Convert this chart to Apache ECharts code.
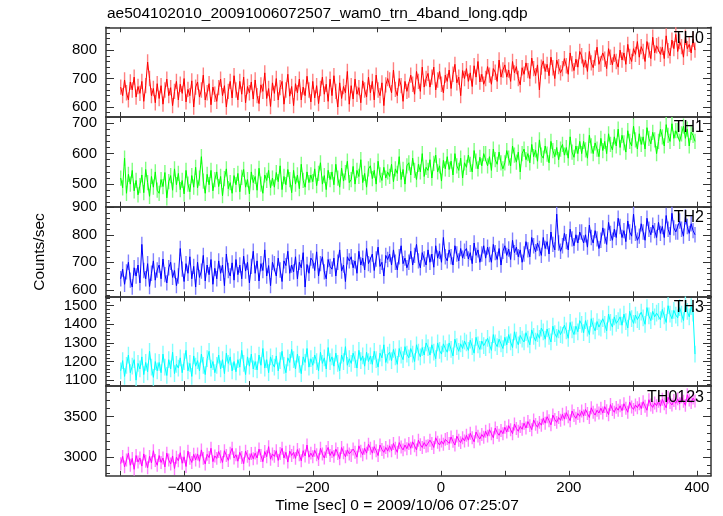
<!DOCTYPE html>
<html>
<head>
<meta charset="utf-8">
<script src="https://cdn.jsdelivr.net/npm/echarts@6/dist/echarts.min.js"></script>
<style>html,body{margin:0;padding:0;background:#fff}#c{width:723px;height:516px}</style>
</head>
<body>
<div id="c"></div>
<script>
// time bins (sec from 2009/10/06 07:25:07)
const binStart = -500, binSize = 3;
const xTicks = [-500,-400,-300,-200,-100,0,100,200,300,400];
const xLabels = [-400,-200,0,200,400];
const bandNames = ['TH0','TH1','TH2','TH3','TH0123'];
const bandColors = ['#ff0000','#00ff00','#0000ff','#00ffff','#ff00ff'];
const errColors = ['#ff8080','#80ff80','#8080ff','#80ffff','#ff80ff'];
// typical 1-sigma error bar of each band (counts/sec)
const bandErrors = [27, 25, 28, 45, 80];
const yRanges = [[565,880],[426,720],[576,902],[1068,1550],[2770,3878]];
const yMajor = [[600,700,800],[500,600,700],[600,700,800,900],[1100,1200,1300,1400,1500],[3000,3500]];
const yMinorStep = [20,20,20,20,100];

const th0 = [
670,640,695,650,625,688,660,705,635,672,
648,690,620,675,758,700,640,665,615,682,
630,675,610,660,698,640,668,605,655,690,
625,680,648,700,618,662,640,692,600,670,
688,635,660,712,625,650,682,608,670,645,
620,668,698,640,675,600,655,690,632,710,
660,625,690,645,705,615,672,650,688,628,
695,640,612,678,655,720,630,665,602,685,
648,700,625,668,690,610,660,715,638,672,
605,682,650,698,625,670,640,708,660,618,
690,632,675,612,665,705,645,680,620,698,
640,710,655,600,685,630,672,650,725,610,
675,628,698,645,668,615,692,660,635,705,
650,690,625,712,660,640,685,605,678,700,
695,650,730,662,640,700,675,620,690,655,
660,712,680,645,725,690,655,740,670,700,
718,670,705,740,660,695,725,680,650,712,
690,730,665,715,750,685,705,640,728,700,
735,690,720,672,745,705,760,688,715,680,
700,742,712,680,735,722,690,765,705,730,
748,705,730,690,760,720,742,700,678,738,
715,755,728,700,772,735,710,748,660,740,
762,725,750,710,775,738,700,765,742,720,
735,770,745,715,790,752,728,768,740,795,
780,740,765,725,795,755,738,772,810,750,
752,790,768,735,805,775,748,785,760,740,
800,765,790,750,820,778,760,805,785,830,
775,812,795,760,830,800,770,845,790,815,
820,785,810,770,850,798,780,835,805,855,
795,830,812,775,845,805,820,790,838,800];
const th1 = [
520,488,585,470,532,500,545,478,512,465,
495,530,472,548,505,460,525,490,540,480,
470,515,492,538,455,508,528,480,550,498,
535,482,512,468,545,500,475,528,490,555,
488,520,590,510,470,532,498,545,478,515,
540,492,525,462,518,550,485,505,470,528,
498,535,475,522,548,490,515,468,540,505,
525,480,552,500,470,530,512,545,488,520,
490,538,508,560,482,525,498,548,515,472,
545,500,530,485,565,512,490,540,505,530,
508,550,495,535,570,500,528,482,545,515,
540,498,565,520,490,552,510,538,575,505,
515,558,500,545,525,580,505,535,490,550,
560,518,545,500,575,530,512,555,520,540,
525,565,508,550,535,590,515,548,500,560,
570,530,585,545,515,565,540,600,525,555,
545,580,520,568,595,540,560,510,578,550,
590,548,575,530,600,560,545,585,520,570,
555,595,565,540,610,575,550,588,560,600,
600,560,590,545,615,580,565,605,570,550,
570,610,585,560,625,595,572,605,540,600,
615,580,600,570,630,590,612,575,645,595,
585,625,598,570,640,610,590,620,580,615,
630,595,620,585,655,605,588,625,600,640,
600,640,612,585,660,625,600,635,615,590,
650,610,640,600,665,630,612,655,625,680,
620,660,635,605,675,640,625,690,645,615,
665,630,655,615,685,650,632,670,645,600,
640,680,655,625,695,660,640,698,650,675,
675,640,665,690,650,680,625,670,660,640];
const th2 = [
640,675,620,665,700,635,610,680,650,690,
625,765,670,640,695,612,660,705,635,672,
690,640,712,655,625,680,700,645,670,615,
650,750,675,630,695,660,720,640,685,610,
700,645,668,725,632,690,655,710,620,678,
640,705,660,690,615,730,670,650,698,635,
710,655,690,640,722,668,700,625,685,740,
660,705,632,695,670,745,650,688,615,700,
695,650,715,672,630,705,688,740,660,690,
665,720,640,700,680,735,610,692,660,715,
705,670,738,650,695,720,665,640,710,685,
675,715,650,700,745,668,690,630,720,705,
720,680,705,660,740,690,715,672,750,695,
690,730,670,712,755,685,700,650,725,710,
730,690,745,700,672,720,760,695,715,680,
700,740,690,725,765,705,680,735,712,690,
745,700,730,682,760,715,740,700,790,720,
705,745,720,690,760,730,705,750,715,740,
750,712,735,695,770,725,745,700,730,760,
715,755,728,700,765,735,710,750,690,740,
760,725,748,710,780,735,755,720,745,700,
730,775,745,720,790,760,738,770,750,725,
790,750,775,730,810,765,745,875,770,740,
760,805,775,745,820,785,760,800,770,810,
810,770,800,755,835,790,770,815,785,750,
780,825,795,765,845,805,780,820,790,860,
830,790,815,775,850,810,795,875,805,780,
795,840,810,780,860,820,800,835,815,790,
845,805,830,790,870,820,800,878,825,810,
810,850,820,795,865,830,805,840,815,800];
const th3 = [
1150,1205,1120,1180,1235,1140,1175,1210,1100,1190,
1160,1225,1130,1195,1145,1255,1170,1115,1200,1150,
1195,1140,1240,1170,1125,1210,1160,1250,1135,1185,
1165,1220,1140,1200,1260,1150,1190,1120,1230,1175,
1205,1150,1240,1180,1130,1215,1255,1165,1200,1140,
1180,1235,1160,1210,1135,1245,1190,1225,1150,1200,
1145,1210,1170,1260,1190,1130,1225,1175,1240,1160,
1200,1155,1235,1180,1270,1165,1210,1140,1225,1190,
1170,1230,1150,1205,1255,1180,1140,1220,1195,1265,
1210,1160,1240,1185,1135,1225,1195,1270,1170,1215,
1180,1235,1200,1150,1250,1190,1220,1160,1275,1200,
1225,1175,1245,1190,1150,1235,1200,1280,1180,1215,
1190,1245,1210,1165,1260,1205,1230,1175,1250,1200,
1230,1185,1255,1210,1170,1245,1220,1290,1195,1235,
1250,1205,1265,1225,1185,1270,1235,1210,1280,1240,
1220,1270,1240,1200,1290,1250,1225,1275,1235,1300,
1275,1235,1290,1250,1215,1300,1260,1240,1295,1270,
1250,1300,1265,1230,1320,1280,1255,1295,1270,1310,
1300,1260,1315,1280,1245,1330,1290,1265,1310,1285,
1275,1325,1290,1260,1345,1300,1280,1320,1295,1270,
1330,1290,1345,1305,1275,1360,1315,1290,1340,1320,
1305,1355,1320,1290,1370,1335,1310,1350,1325,1380,
1360,1320,1375,1335,1305,1390,1350,1330,1370,1345,
1340,1395,1365,1325,1410,1370,1345,1390,1360,1420,
1400,1355,1420,1380,1345,1430,1390,1365,1415,1385,
1380,1430,1400,1365,1455,1410,1385,1440,1405,1420,
1440,1395,1455,1415,1380,1470,1430,1405,1450,1425,
1415,1465,1435,1400,1490,1445,1420,1470,1440,1460,
1470,1425,1480,1445,1410,1500,1455,1430,1475,1450,
1435,1490,1455,1420,1510,1470,1440,1495,1460,1240];
const th0123 = [
2920,3010,2880,2965,3050,2900,2985,2850,3020,2940,
2990,2890,3040,2950,2870,3010,2930,3080,2960,2900,
3020,2935,2990,2880,3050,2965,2915,3015,2860,3000,
2955,3055,2925,3005,2885,3075,2985,2935,3035,2965,
3040,2950,3090,2985,2915,3035,2995,3110,2945,3015,
2985,3070,3005,2935,3080,3020,2960,3050,3110,2990,
3030,2950,3060,2995,2920,3075,3010,2965,3045,2980,
3050,2990,3100,3020,2945,3070,3005,3130,2975,3040,
3010,3080,2960,3045,3110,2990,3060,2940,3075,3020,
3060,2985,3095,3030,2955,3080,3015,3150,3000,3050,
3005,3085,3030,2970,3110,3040,2990,3070,3120,3020,
3070,3010,3100,3045,2980,3120,3055,3005,3090,3040,
3020,3100,3060,3000,3140,3075,3030,3110,3050,3160,
3110,3050,3130,3080,3020,3150,3095,3060,3120,3075,
3140,3080,3170,3110,3060,3180,3125,3090,3150,3105,
3170,3110,3190,3140,3090,3210,3155,3120,3180,3135,
3140,3210,3170,3120,3240,3185,3150,3200,3160,3220,
3230,3170,3250,3195,3150,3260,3210,3180,3240,3200,
3270,3210,3295,3240,3190,3310,3260,3225,3280,3245,
3320,3260,3340,3290,3240,3360,3305,3270,3330,3290,
3370,3310,3390,3340,3290,3410,3355,3320,3380,3345,
3420,3360,3440,3390,3340,3460,3405,3370,3430,3395,
3480,3420,3500,3450,3400,3520,3465,3430,3490,3455,
3530,3470,3550,3500,3450,3570,3515,3480,3540,3505,
3570,3510,3590,3540,3490,3610,3555,3520,3580,3545,
3605,3545,3625,3575,3525,3650,3590,3555,3615,3580,
3635,3575,3660,3605,3555,3680,3620,3590,3645,3610,
3660,3600,3685,3630,3580,3710,3645,3615,3670,3635,
3690,3630,3715,3660,3610,3740,3675,3645,3700,3665,
3720,3660,3745,3690,3640,3770,3705,3675,3730,3695];

const seriesValues = [th0, th1, th2, th3, th0123];
const FONT = '"Liberation Sans", Arial, sans-serif';
const AX = '#333';

const chart = echarts.init(document.getElementById('c'), null, {renderer:'canvas'});
const grids=[], xAxes=[], yAxes=[], series=[], graphics=[];
const top0 = 27.3, ph = 89.7;
function yAxisDef(p, pos, len, vals, showLine, showLabel){
  const [ymin,ymax] = yRanges[p];
  return {gridIndex:p,type:'value',position:pos,min:ymin,max:ymax,
    axisLine:{show:showLine,onZero:false,lineStyle:{color:AX,width:1.5}},
    axisTick:{show:true,inside:true,length:len,customValues:vals,lineStyle:{color:AX,width:1}},
    axisLabel:{show:showLabel,customValues:vals,color:'#000',fontSize:15,fontFamily:FONT,margin:9,formatter:v=>String(v)},
    splitLine:{show:false}};
}
for (let p=0;p<5;p++){
  const t = top0 + p*ph;
  grids.push({left:106, width:605, top:t, height:ph});
  const [ymin,ymax] = yRanges[p];
  const minors=[];
  for(let v=Math.ceil(ymin/yMinorStep[p])*yMinorStep[p]; v<=ymax; v+=yMinorStep[p]) minors.push(v);
  xAxes.push({gridIndex:p,type:'value',position:'bottom',min:-523,max:422,
    axisLine:{show:true,onZero:false,lineStyle:{color:AX,width:1.5}},
    axisTick:{show:true,inside:true,length:5,customValues:xTicks,lineStyle:{color:AX,width:1}},
    axisLabel:{show:p===4,customValues:xLabels,color:'#000',fontSize:15,fontFamily:FONT,margin:5,
      formatter:v=>v<0?'\u2212'+Math.abs(v):String(v)},
    splitLine:{show:false}});
  xAxes.push({gridIndex:p,type:'value',position:'top',min:-523,max:422,
    axisLine:{show:true,onZero:false,lineStyle:{color:AX,width:1.5}},
    axisTick:{show:true,inside:true,length:5,customValues:xTicks,lineStyle:{color:AX,width:1}},
    axisLabel:{show:false},splitLine:{show:false}});
  const yBase = yAxes.length;
  yAxes.push(yAxisDef(p,'left',8,yMajor[p],true,true));
  yAxes.push(yAxisDef(p,'right',8,yMajor[p],true,false));
  yAxes.push(yAxisDef(p,'left',4,minors,false,false));
  yAxes.push(yAxisDef(p,'right',4,minors,false,false));
  const data = seriesValues[p].map((v,i)=>[binStart+i*binSize, v, bandErrors[p]]);
  const ec = errColors[p];
  series.push({type:'custom',xAxisIndex:2*p,yAxisIndex:yBase,data:data,silent:true,z:1,animation:false,clip:true,
    encode:{x:0,y:1},
    renderItem:function(params, api){
      const x=api.value(0), y=api.value(1), e=api.value(2);
      const a=api.coord([x,y-e]), b=api.coord([x,y+e]);
      return {type:'line',shape:{x1:a[0],y1:a[1],x2:b[0],y2:b[1]},style:{stroke:ec,lineWidth:1.4}};
    }});
  series.push({type:'line',xAxisIndex:2*p,yAxisIndex:yBase,data:data.map(d=>[d[0],d[1]]),showSymbol:false,silent:true,
    lineStyle:{color:bandColors[p],width:1},z:2,animation:false,clip:true});
  graphics.push({type:'text',right:19,top:t+3,z:10,
    style:{text:bandNames[p],fill:'#000',font:'16px '+FONT}});
}
graphics.push({type:'text',left:107,top:6,style:{text:'ae504102010_20091006072507_wam0_trn_4band_long.qdp',fill:'#000',font:'15.5px '+FONT}});
graphics.push({type:'text',x:397,y:506,style:{text:'Time [sec] 0 = 2009/10/06 07:25:07',fill:'#000',font:'15.5px '+FONT,align:'center',verticalAlign:'middle'}});
graphics.push({type:'text',x:40,y:252,rotation:Math.PI/2,style:{text:'Counts/sec',fill:'#000',font:'15.5px '+FONT,align:'center',verticalAlign:'middle'}});

chart.setOption({animation:false,backgroundColor:'#fff',grid:grids,xAxis:xAxes,yAxis:yAxes,series:series,graphic:graphics});
</script>
</body>
</html>
